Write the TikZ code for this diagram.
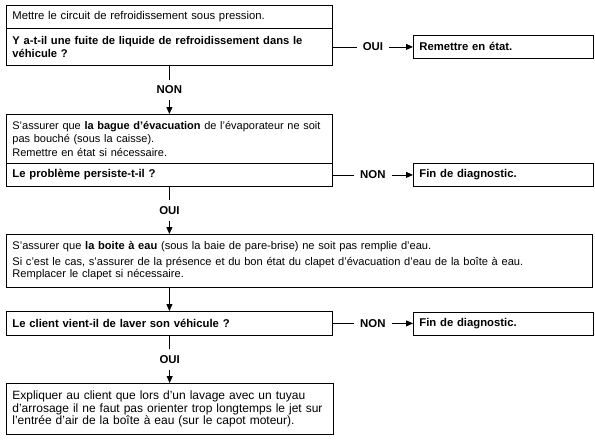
\documentclass[tikz,border=0pt]{standalone}
\usepackage{fontspec}
\setmainfont{Liberation Sans}
\usetikzlibrary{arrows.meta}
\usetikzlibrary{positioning}
\usepackage{xcolor}

\tikzset{
  boite/.style={draw, line width=0.8pt, anchor=north west, align=left,
    inner xsep=6pt, inner ysep=1pt,
    font=\fontsize{11}{13.5}\selectfont},
  reponse/.style={inner sep=6pt, font=\fontsize{11.4}{12}\selectfont\bfseries},
  fleche/.style={line width=0.8pt, -{Triangle[length=7pt,width=6pt]}},
  trait/.style={line width=0.8pt}
}

\begin{document}
\begin{tikzpicture}[x=1pt,y=-1pt]

  \useasboundingbox (0,0) rectangle (595,445);

  % colonne de gauche
  \node[boite, text width=314pt, minimum height=23pt,
    font=\fontsize{11.3}{13}\selectfont] (pression) at (6,5)
    {Mettre le circuit de refroidissement sous pression.};
  \node[boite, text width=314pt, minimum height=37pt,
    font=\fontsize{11.2}{13}\selectfont\bfseries] (fuite) at (6,28)
    {Y a-t-il une fuite de liquide de refroidissement dans le\\ véhicule ?};
  \node[boite, text width=314pt, minimum height=49pt] (bague) at (6,114)
    {S'assurer que \textbf{la bague d'évacuation} de l'évaporateur ne soit\\
     pas bouché (sous la caisse).\\
     Remettre en état si nécessaire.};
  \node[boite, text width=314pt, minimum height=23pt,
    font=\fontsize{11.3}{13}\selectfont\bfseries] (persiste) at (6,163)
    {Le problème persiste-t-il ?};
  \node[boite, text width=574pt, minimum height=53pt,
    font=\fontsize{11.1}{12}\selectfont] (eau) at (6,234)
    {S'assurer que \textbf{la boite à eau} (sous la baie de pare-brise) ne soit pas remplie d'eau.\\[4pt]
     Si c'est le cas, s'assurer de la présence et du bon état du clapet d'évacuation d'eau de la boîte à eau.\\
     Remplacer le clapet si nécessaire.};
  \node[boite, text width=314pt, minimum height=24pt,
    font=\fontsize{11.3}{13}\selectfont\bfseries] (lavage) at (6,311)
    {Le client vient-il de laver son véhicule ?};
  \node[boite, text width=315pt, minimum height=51pt,
    font=\fontsize{12}{12.7}\selectfont] (conseil) at (6,383)
    {Expliquer au client que lors d'un lavage avec un tuyau\\
     d'arrosage il ne faut pas orienter trop longtemps le jet sur\\
     l'entrée d'air de la boîte à eau (sur le capot moteur).};

  % colonne de droite
  \node[boite, text width=168pt, minimum height=23pt,
    font=\fontsize{11.3}{13}\selectfont\bfseries] (remettre) at (413,35)
    {Remettre en état.};
  \node[boite, text width=168pt, minimum height=23pt,
    font=\fontsize{11.3}{13}\selectfont\bfseries] (fin1) at (413,163)
    {Fin de diagnostic.};
  \node[boite, text width=168pt, minimum height=23pt,
    font=\fontsize{11.3}{13}\selectfont\bfseries] (fin2) at (413,312)
    {Fin de diagnostic.};

  % reponses
  \path (fuite.east) -- node[reponse] (oui1) {OUI} (remettre.west);
  \path (fuite.south) -- node[reponse] (non1) {NON} (bague.north);
  \path (persiste.east) -- node[reponse] (non2) {NON} (fin1.west);
  \path (persiste.south) -- node[reponse] (oui2) {OUI} (eau.north -| persiste.south);
  \path (lavage.east) -- node[reponse] (non3) {NON} (fin2.west |- lavage.east);
  \path (lavage.south) -- node[reponse] (oui3) {OUI} (conseil.north);

  % liaisons
  \draw[trait] (fuite.east) -- (oui1);
  \draw[fleche] (oui1) -- (remettre.west);
  \draw[trait] (fuite.south) -- (non1);
  \draw[fleche] (non1) -- (bague.north);
  \draw[trait] (persiste.east) -- (non2);
  \draw[fleche] (non2) -- (fin1.west);
  \draw[trait] (persiste.south) -- (oui2);
  \draw[fleche] (oui2) -- (eau.north -| oui2);
  \draw[fleche] (eau.south -| lavage.south) -- (lavage.north);
  \draw[trait] (lavage.east) -- (non3);
  \draw[fleche] (non3) -- (fin2.west |- non3);
  \draw[trait] (lavage.south) -- (oui3);
  \draw[fleche] (oui3) -- (conseil.north -| oui3);

\end{tikzpicture}
\end{document}
